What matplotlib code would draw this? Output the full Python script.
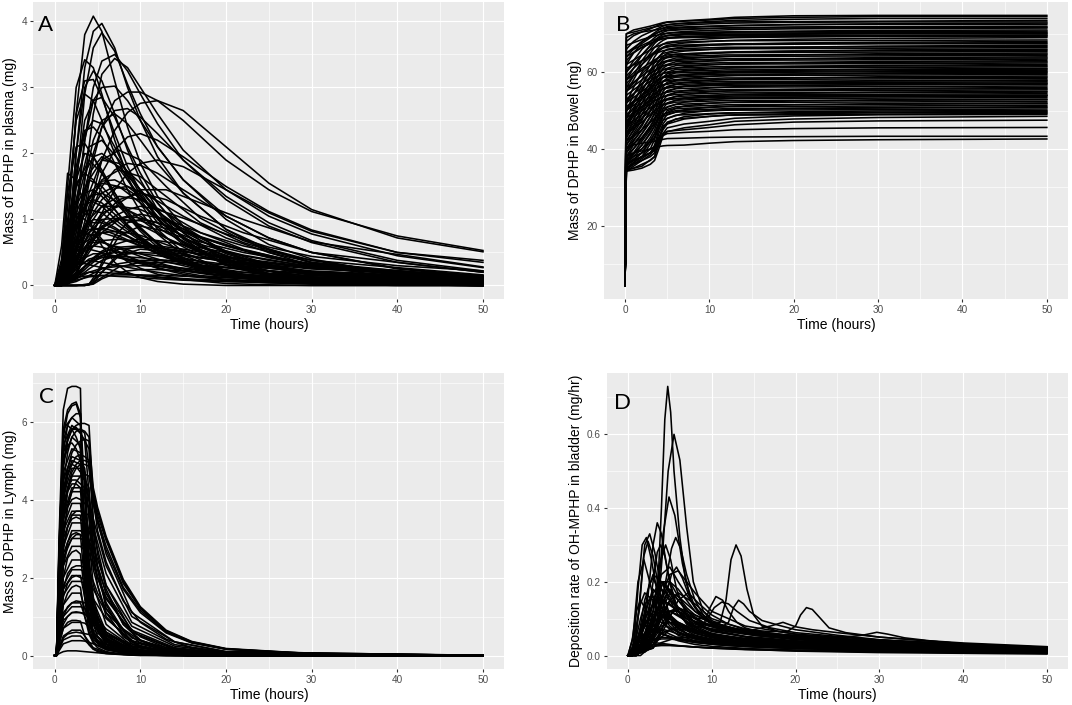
import matplotlib
matplotlib.use("Agg")
import matplotlib.pyplot as plt

plt.rcParams['font.family'] = 'Liberation Sans'

# panel A - mass in plasma, all curves share one time grid
timeA = [0, 0.8, 1.5, 2.5, 3.5, 4.5, 5.5, 7, 8.5, 10, 12, 15, 20, 25, 30, 40, 50]
plasma = [
    [0, 0.1, 0.8, 2.6, 3.8, 4.08, 3.85, 3.1, 2.4, 1.85, 1.35, 0.9, 0.5, 0.3, 0.18, 0.07, 0.03],
    [0, 0.05, 0.5, 2.0, 3.3, 3.85, 3.97, 3.6, 3.0, 2.5, 1.95, 1.4, 0.85, 0.55, 0.38, 0.18, 0.09],
    [0, 0.03, 0.3, 1.5, 2.9, 3.6, 3.83, 3.55, 3.05, 2.6, 2.1, 1.6, 1.05, 0.72, 0.5, 0.26, 0.14],
    [0, 0.02, 0.2, 1.0, 2.2, 3.0, 3.4, 3.5, 3.25, 2.9, 2.45, 1.9, 1.3, 0.9, 0.65, 0.35, 0.2],
    [0, 0, 0.1, 0.6, 1.6, 2.6, 3.2, 3.44, 3.3, 3.0, 2.6, 2.05, 1.45, 1.05, 0.78, 0.45, 0.27],
    [0, 0.3, 1.5, 3.0, 3.42, 3.3, 2.9, 2.2, 1.65, 1.25, 0.85, 0.5, 0.22, 0.1, 0.05, 0.01, 0],
    [0, 0.1, 0.6, 2.0, 3.0, 3.25, 3.1, 2.6, 2.05, 1.6, 1.15, 0.7, 0.32, 0.15, 0.07, 0.02, 0],
    [0, 0.05, 0.3, 1.2, 2.2, 2.8, 3.0, 3.02, 2.8, 2.5, 2.1, 1.6, 1.0, 0.62, 0.4, 0.16, 0.07],
    [0, 0, 0.1, 0.5, 1.2, 1.9, 2.4, 2.8, 2.93, 2.93, 2.8, 2.5, 1.9, 1.45, 1.12, 0.75, 0.53],
    [0, 0, 0.05, 0.3, 0.8, 1.4, 1.9, 2.35, 2.62, 2.76, 2.8, 2.65, 2.1, 1.55, 1.15, 0.72, 0.51],
    [0, 0.6, 1.7, 1.6, 1.2, 0.85, 0.6, 0.35, 0.2, 0.12, 0.06, 0.02, 0, 0, 0, 0, 0],
    [0, 0.2, 1.2, 2.5, 2.9, 2.8, 2.5, 2.0, 1.6, 1.3, 0.95, 0.62, 0.33, 0.18, 0.1, 0.04, 0.02],
    [0, 0.1, 0.9, 2.6, 3.1, 3.12, 2.85, 2.3, 1.8, 1.42, 1.02, 0.65, 0.3, 0.14, 0.07, 0.02, 0],
    [0, 0, 0.1, 0.6, 1.4, 2.0, 2.4, 2.65, 2.68, 2.55, 2.3, 1.9, 1.35, 0.95, 0.68, 0.38, 0.22],
    [0, 0, 0.05, 0.3, 0.8, 1.3, 1.7, 2.05, 2.25, 2.3, 2.2, 1.95, 1.5, 1.12, 0.84, 0.5, 0.35],
    [0, 0, 0.02, 0.15, 0.45, 0.8, 1.1, 1.45, 1.7, 1.85, 1.9, 1.8, 1.45, 1.1, 0.82, 0.5, 0.38],
    [0, 0.05, 0.4, 1.2, 1.7, 1.95, 2.0, 1.85, 1.6, 1.35, 1.05, 0.72, 0.4, 0.22, 0.13, 0.05, 0.02],
    [0, 0.1, 0.6, 1.7, 2.3, 2.5, 2.45, 2.1, 1.7, 1.38, 1.0, 0.65, 0.32, 0.16, 0.08, 0.02, 0.01],
    [0, 0, 0.1, 0.4, 0.8, 1.1, 1.3, 1.47, 1.5, 1.42, 1.28, 1.05, 0.72, 0.5, 0.35, 0.18, 0.1],
    [0, 0, 0.05, 0.2, 0.45, 0.7, 0.88, 1.05, 1.15, 1.2, 1.15, 1.02, 0.78, 0.58, 0.44, 0.3, 0.22],
    [0, 0.05, 0.3, 0.7, 0.9, 1.0, 0.98, 0.88, 0.75, 0.62, 0.48, 0.33, 0.18, 0.1, 0.06, 0.02, 0.01],
    [0, 0.1, 0.4, 0.7, 0.8, 0.76, 0.68, 0.55, 0.44, 0.35, 0.26, 0.17, 0.08, 0.04, 0.02, 0.01, 0],
    [0, 0.3, 1.0, 1.55, 1.7, 1.6, 1.42, 1.15, 0.9, 0.72, 0.52, 0.33, 0.15, 0.07, 0.03, 0.01, 0],
    [0, 0.4, 1.4, 2.1, 2.15, 1.95, 1.7, 1.35, 1.05, 0.82, 0.58, 0.35, 0.15, 0.06, 0.03, 0, 0],
    [0, 0, 0.05, 0.15, 0.28, 0.38, 0.45, 0.5, 0.5, 0.48, 0.45, 0.4, 0.32, 0.26, 0.2, 0.15, 0.12],
    [0, 0, 0, 0, 0, 0.02, 0.1, 0.18, 0.22, 0.24, 0.24, 0.22, 0.18, 0.15, 0.12, 0.09, 0.07],
    [0, 0, 0, 0, 0, 0.03, 0.2, 0.42, 0.55, 0.6, 0.6, 0.55, 0.44, 0.34, 0.27, 0.18, 0.12],
    [0, 0.05, 0.35, 0.9, 1.2, 1.3, 1.25, 1.08, 0.88, 0.72, 0.54, 0.36, 0.18, 0.09, 0.05, 0.02, 0],
    [0, 0.08, 0.25, 0.34, 0.33, 0.3, 0.27, 0.22, 0.18, 0.15, 0.12, 0.09, 0.06, 0.04, 0.03, 0.02, 0.01],
    [0, 0.02, 0.2, 0.8, 1.6, 2.2, 2.5, 2.6, 2.45, 2.2, 1.85, 1.4, 0.85, 0.5, 0.3, 0.12, 0.05],
    [0, 0, 0.08, 0.35, 0.8, 1.2, 1.5, 1.75, 1.85, 1.82, 1.7, 1.45, 1.05, 0.72, 0.5, 0.25, 0.13],
    [0, 0.03, 0.08, 0.12, 0.14, 0.15, 0.15, 0.14, 0.13, 0.12, 0.1, 0.08, 0.06, 0.05, 0.04, 0.03, 0.02],
    [0, 0.08, 0.6, 1.8, 2.35, 2.4, 2.25, 1.85, 1.45, 1.12, 0.78, 0.46, 0.2, 0.09, 0.04, 0.01, 0],
    [0, 0.02, 0.2, 0.7, 1.15, 1.45, 1.58, 1.6, 1.5, 1.35, 1.12, 0.82, 0.48, 0.28, 0.16, 0.06, 0.03],
    [0, 0, 0.03, 0.12, 0.28, 0.42, 0.52, 0.62, 0.68, 0.7, 0.68, 0.62, 0.5, 0.38, 0.29, 0.19, 0.14],
    [0, 0.05, 0.4, 1.6, 2.5, 2.8, 2.85, 2.55, 2.1, 1.7, 1.25, 0.8, 0.38, 0.18, 0.09, 0.02, 0.01],
    [0, 0.3, 0.8, 1.1, 1.0, 0.85, 0.7, 0.5, 0.36, 0.26, 0.17, 0.09, 0.03, 0.01, 0, 0, 0],
    [0, 0.05, 0.2, 0.42, 0.56, 0.6, 0.58, 0.52, 0.44, 0.37, 0.3, 0.22, 0.13, 0.08, 0.05, 0.02, 0.01],
    [0, 0, 0, 0, 0, 0.05, 0.35, 0.75, 0.95, 1.0, 0.95, 0.82, 0.6, 0.42, 0.3, 0.16, 0.09],
    [0, 0.02, 0.15, 0.5, 0.9, 1.2, 1.4, 1.5, 1.45, 1.32, 1.12, 0.85, 0.52, 0.32, 0.2, 0.08, 0.04],
    [0, 0.1, 0.5, 1.1, 1.4, 1.45, 1.35, 1.15, 0.92, 0.74, 0.55, 0.36, 0.17, 0.08, 0.04, 0.01, 0],
    [0, 0.05, 0.25, 0.55, 0.75, 0.85, 0.87, 0.82, 0.74, 0.65, 0.54, 0.42, 0.27, 0.18, 0.12, 0.06, 0.04],
    [0, 0, 0.05, 0.2, 0.45, 0.68, 0.86, 1.0, 1.05, 1.02, 0.95, 0.82, 0.6, 0.44, 0.33, 0.2, 0.15],
    [0, 0.02, 0.12, 0.3, 0.42, 0.48, 0.48, 0.45, 0.4, 0.35, 0.3, 0.23, 0.15, 0.1, 0.07, 0.04, 0.03],
    [0, 0.15, 0.7, 1.6, 2.0, 1.95, 1.75, 1.4, 1.1, 0.86, 0.62, 0.4, 0.19, 0.09, 0.05, 0.01, 0],
]
# the dense mass of low plasma curves, read on a coarser grid
timeA2 = [0, 1, 2.5, 4, 5.5, 7.5, 10, 13, 17, 22, 30, 50]
plasmaLow = [
    [0, 0.3, 1.2, 1.6, 1.5, 1.2, 0.85, 0.55, 0.3, 0.16, 0.06, 0.01],
    [0, 0.1, 0.7, 1.3, 1.55, 1.5, 1.25, 0.9, 0.58, 0.36, 0.17, 0.05],
    [0, 0.05, 0.4, 0.9, 1.2, 1.35, 1.3, 1.1, 0.8, 0.55, 0.3, 0.1],
    [0, 0.02, 0.2, 0.5, 0.8, 1.0, 1.08, 1.0, 0.8, 0.6, 0.38, 0.16],
    [0, 0.4, 1.5, 1.9, 1.7, 1.3, 0.88, 0.52, 0.25, 0.12, 0.04, 0],
    [0, 0.2, 0.9, 1.15, 1.1, 0.9, 0.68, 0.45, 0.26, 0.15, 0.06, 0.01],
    [0, 0.1, 0.5, 0.75, 0.8, 0.72, 0.6, 0.45, 0.3, 0.2, 0.1, 0.03],
    [0, 0.05, 0.3, 0.55, 0.68, 0.7, 0.65, 0.55, 0.42, 0.32, 0.2, 0.08],
    [0, 0.02, 0.15, 0.35, 0.5, 0.58, 0.6, 0.56, 0.48, 0.4, 0.28, 0.15],
    [0, 0.3, 1.0, 1.3, 1.2, 0.95, 0.7, 0.45, 0.24, 0.13, 0.05, 0.01],
    [0, 0.1, 0.8, 1.6, 1.9, 1.85, 1.55, 1.1, 0.68, 0.4, 0.17, 0.04],
    [0, 0.05, 0.5, 1.2, 1.6, 1.75, 1.65, 1.35, 0.95, 0.65, 0.35, 0.1],
    [0, 0.02, 0.25, 0.7, 1.05, 1.3, 1.4, 1.3, 1.05, 0.8, 0.5, 0.2],
    [0, 0.15, 0.6, 0.85, 0.85, 0.75, 0.6, 0.42, 0.26, 0.16, 0.07, 0.02],
    [0, 0.05, 0.25, 0.4, 0.45, 0.42, 0.37, 0.3, 0.22, 0.16, 0.1, 0.04],
    [0, 0.02, 0.1, 0.2, 0.26, 0.29, 0.3, 0.28, 0.24, 0.2, 0.15, 0.09],
    [0, 0.25, 0.9, 1.35, 1.4, 1.25, 1.0, 0.72, 0.45, 0.28, 0.13, 0.03],
    [0, 0.08, 0.55, 1.0, 1.2, 1.2, 1.05, 0.8, 0.54, 0.36, 0.19, 0.06],
    [0, 0.03, 0.3, 0.65, 0.9, 1.0, 0.98, 0.86, 0.66, 0.5, 0.32, 0.13],
    [0, 0, 0, 0.02, 0.2, 0.45, 0.55, 0.52, 0.42, 0.33, 0.22, 0.1],
    [0, 0, 0, 0.01, 0.12, 0.28, 0.35, 0.35, 0.3, 0.25, 0.18, 0.09],
    [0, 0, 0, 0.02, 0.3, 0.75, 0.9, 0.82, 0.62, 0.46, 0.28, 0.1],
    [0, 0.1, 0.3, 0.38, 0.35, 0.3, 0.24, 0.18, 0.12, 0.08, 0.04, 0.01],
    [0, 0.05, 0.15, 0.2, 0.2, 0.18, 0.15, 0.12, 0.09, 0.07, 0.05, 0.02],
    [0, 0.3, 1.3, 2.1, 2.2, 1.9, 1.45, 0.95, 0.52, 0.28, 0.1, 0.01],
    [0, 0.05, 0.6, 1.4, 1.9, 2.05, 1.9, 1.5, 1.02, 0.68, 0.34, 0.08],
    [0, 0.02, 0.2, 0.55, 0.95, 1.25, 1.45, 1.45, 1.25, 1.0, 0.66, 0.28],
    [0, 0.1, 0.45, 0.65, 0.65, 0.58, 0.48, 0.36, 0.24, 0.16, 0.08, 0.02],
    [0, 0.02, 0.12, 0.3, 0.45, 0.55, 0.58, 0.55, 0.47, 0.38, 0.26, 0.12],
    [0, 0.2, 0.7, 0.95, 0.95, 0.82, 0.65, 0.46, 0.28, 0.17, 0.07, 0.01],
    [0, 0.04, 0.35, 0.8, 1.1, 1.2, 1.15, 0.98, 0.74, 0.54, 0.31, 0.1],
    [0, 0.01, 0.1, 0.25, 0.38, 0.46, 0.5, 0.48, 0.42, 0.35, 0.25, 0.13],
    [0, 0.15, 0.45, 0.55, 0.5, 0.42, 0.33, 0.24, 0.15, 0.1, 0.05, 0.01],
    [0, 0.03, 0.18, 0.35, 0.42, 0.44, 0.42, 0.38, 0.31, 0.25, 0.17, 0.08],
    [0, 0.02, 0.08, 0.13, 0.15, 0.16, 0.16, 0.15, 0.13, 0.11, 0.08, 0.05],
    [0, 0.15, 0.95, 1.7, 1.95, 1.8, 1.45, 1.0, 0.6, 0.36, 0.15, 0.03],
    [0, 0.06, 0.4, 0.8, 1.0, 1.02, 0.92, 0.72, 0.5, 0.34, 0.18, 0.05],
    [0, 0.01, 0.06, 0.15, 0.25, 0.33, 0.38, 0.38, 0.34, 0.29, 0.21, 0.11],
    [0, 0.2, 0.55, 0.7, 0.66, 0.56, 0.44, 0.31, 0.19, 0.12, 0.05, 0.01],
    [0, 0.05, 0.35, 0.65, 0.8, 0.82, 0.76, 0.62, 0.45, 0.32, 0.18, 0.06],
]

# panel B - mass in bowel
timeB = [0, 0.15, 1, 2, 3, 3.5, 4, 4.5, 5, 7, 10, 13, 20, 30, 50]
bowel = [
    [4.4, 70, 71, 71.5, 72, 72.3, 72.6, 72.9, 73.1, 73.4, 73.8, 74.3, 74.7, 74.8, 74.8],
    [4.4, 68, 69.5, 70.5, 71.3, 71.8, 72.3, 72.7, 73, 73.3, 73.6, 74.0, 74.3, 74.5, 74.5],
    [4.4, 66, 68, 69.5, 70.5, 71, 71.5, 72, 72.4, 72.8, 73.2, 73.5, 73.8, 74.0, 74.0],
    [4.4, 64, 66, 68, 69.5, 70.3, 71, 71.5, 71.9, 72.3, 72.6, 72.8, 73, 73.1, 73.1],
    [4.4, 62, 65, 67.5, 69, 69.8, 70.5, 71, 71.3, 71.6, 71.9, 72.1, 72.4, 72.5, 72.5],
    [4.4, 60, 63, 66, 68, 69, 69.8, 70.4, 70.8, 71.1, 71.4, 71.6, 71.8, 71.9, 72.0],
    [4.4, 58, 61, 64.5, 67, 68.2, 69.2, 69.8, 70.2, 70.6, 70.9, 71.1, 71.3, 71.4, 71.5],
    [4.4, 56, 59, 63, 66, 67.5, 68.5, 69.2, 69.6, 70, 70.3, 70.5, 70.7, 70.9, 71.0],
    [4.4, 55, 58, 62, 65, 66.5, 67.5, 68.3, 68.8, 69.2, 69.5, 69.7, 69.9, 70.0, 70.0],
    [4.4, 52, 56, 60, 63.5, 65.2, 66.5, 67.3, 67.8, 68.3, 68.7, 69, 69.2, 69.4, 69.5],
    [4.4, 50, 54, 58, 62, 64, 65.5, 66.5, 67, 67.6, 68, 68.3, 68.6, 68.8, 69.0],
    [4.4, 48, 52, 56.5, 60.5, 62.5, 64, 65.2, 66, 66.6, 67, 67.3, 67.6, 67.8, 68.0],
    [4.4, 46, 50, 55, 59, 61.2, 63, 64.2, 64.9, 65.5, 65.9, 66.2, 66.5, 66.8, 67.0],
    [4.4, 45, 49, 53.5, 57.5, 60, 62, 63.2, 63.9, 64.5, 64.9, 65.2, 65.5, 65.8, 66.0],
    [4.4, 44, 47.5, 52, 56, 58.5, 60.8, 62.1, 62.9, 63.5, 63.9, 64.2, 64.5, 64.8, 65.0],
    [4.4, 43, 46, 50.5, 54.5, 57, 59.5, 61, 61.8, 62.5, 62.9, 63.2, 63.5, 63.8, 64.0],
    [4.4, 42, 45, 49, 53, 55.5, 58.2, 59.8, 60.7, 61.4, 61.9, 62.2, 62.5, 62.8, 63.0],
    [4.4, 41, 44, 47.5, 51.5, 54, 57, 58.7, 59.6, 60.4, 60.9, 61.2, 61.5, 61.8, 62.0],
    [4.4, 40, 43, 46, 50, 52.5, 55.5, 57.5, 58.5, 59.3, 59.9, 60.2, 60.5, 60.8, 61.0],
    [4.4, 39, 42, 45, 48.5, 51, 54, 56.2, 57.4, 58.3, 58.9, 59.2, 59.5, 59.8, 60.0],
    [4.4, 38, 41, 44, 47, 49.5, 52.5, 55, 56.3, 57.3, 57.9, 58.2, 58.5, 58.8, 59.0],
    [4.4, 37.5, 40, 43, 46, 48, 51, 53.8, 55.2, 56.3, 56.9, 57.2, 57.5, 57.8, 58.0],
    [4.4, 37, 39, 42, 45, 47, 50, 52.5, 54.1, 55.2, 55.9, 56.2, 56.5, 56.8, 57.0],
    [4.4, 36.5, 38.5, 41, 44, 46, 49, 51.5, 53.1, 54.2, 54.9, 55.2, 55.5, 55.8, 56.0],
    [4.4, 36, 38, 40, 43, 45, 48, 50.5, 52, 53.2, 53.9, 54.2, 54.5, 54.8, 55.0],
    [4.4, 35.5, 37, 39, 42, 44, 47, 49.5, 51, 52.2, 52.9, 53.2, 53.5, 53.8, 54.0],
    [4.4, 35, 36.5, 38, 40, 42.5, 46, 48.5, 50, 51.2, 51.9, 52.2, 52.5, 52.8, 53.0],
    [4.4, 34.5, 36, 37.5, 39, 41, 45, 47.5, 49, 50.2, 50.9, 51.2, 51.5, 51.8, 52.0],
    [4.4, 34.2, 35.5, 37, 38.5, 40, 44, 46.5, 48, 49.3, 50, 50.3, 50.6, 50.8, 51.0],
    [4.4, 36, 37, 38, 39, 40, 43, 45.5, 47, 48.4, 49.1, 49.4, 49.7, 49.9, 50.0],
    [4.4, 35, 36, 37, 38, 39, 42.5, 45, 46.5, 47.8, 48.5, 48.9, 49.2, 49.4, 49.5],
    [4.4, 34.5, 35, 36, 37, 38, 41, 44, 45.5, 46.5, 47.2, 48.0, 48.6, 48.9, 49.0],
    [4.4, 34.2, 34.5, 35, 36, 37, 40, 43.5, 44.5, 45.5, 46.3, 47.2, 47.8, 48.2, 48.5],
    [4.4, 37, 38, 39, 40, 40.5, 42, 44, 44.6, 45, 45.6, 46.3, 47.0, 47.3, 47.5],
    [4.4, 36, 37, 38, 39, 39.5, 41.5, 43.5, 44, 44.3, 44.6, 45.0, 45.3, 45.5, 45.6],
    [4.4, 40, 41, 41.5, 41.8, 42, 42.3, 42.5, 42.7, 42.8, 43.0, 43.1, 43.2, 43.3, 43.3],
    [4.4, 38, 39, 39.5, 40, 40.3, 40.6, 40.8, 40.9, 41.0, 41.5, 41.9, 42.2, 42.4, 42.6],
    [4.4, 69, 70, 70.5, 70.8, 71, 71.2, 71.4, 71.6, 71.8, 72.0, 72.2, 72.4, 72.6, 72.8],
    [4.4, 65, 66, 67, 68, 68.5, 69, 69.3, 69.5, 69.7, 69.8, 69.9, 70.0, 70.1, 70.2],
    [4.4, 57, 59, 61, 62.5, 63.2, 63.8, 64.2, 64.5, 64.8, 65.1, 65.3, 65.5, 65.6, 65.7],
    [4.4, 50, 52, 54, 56, 57, 58, 58.6, 59, 59.4, 59.7, 59.9, 60.0, 60.1, 60.2],
    [4.4, 47, 49, 51, 53, 54, 55, 55.6, 56, 56.4, 56.7, 56.9, 57.0, 57.1, 57.2],
    [4.4, 44, 46, 48, 50, 51, 52, 52.6, 53, 53.3, 53.6, 53.8, 53.9, 54.0, 54.0],
    [4.4, 63, 65, 66.5, 67.5, 68, 68.4, 68.7, 68.9, 69.0, 69.1, 69.2, 69.3, 69.3, 69.3],
    [4.4, 59, 61, 63, 64.5, 65.3, 66, 66.4, 66.7, 66.9, 67.1, 67.2, 67.3, 67.4, 67.4],
]
timeB2 = [0, 0.15, 2, 3.5, 4.5, 6, 12, 50]
bowelDense = [
    [4.4, 34.5, 35.5, 38, 46, 47.8, 48.8, 49.3],
    [4.4, 38, 40, 43, 47.5, 48.8, 49.4, 49.8],
    [4.4, 36, 39, 44, 48.5, 49.6, 50.1, 50.4],
    [4.4, 40, 43, 46.5, 49, 50.0, 50.5, 50.8],
    [4.4, 35, 38, 43, 49, 50.5, 51.0, 51.4],
    [4.4, 42, 45, 48, 50, 51.0, 51.5, 51.8],
    [4.4, 37, 41, 46, 50.5, 51.6, 52.1, 52.4],
    [4.4, 44, 47, 50, 51.5, 52.2, 52.6, 52.8],
    [4.4, 38, 42.5, 47.5, 51.5, 52.7, 53.1, 53.4],
    [4.4, 46, 49, 51.5, 52.6, 53.1, 53.5, 53.7],
    [4.4, 39, 44, 49, 52.6, 53.7, 54.1, 54.4],
    [4.4, 47, 50, 52.5, 53.7, 54.2, 54.6, 54.8],
    [4.4, 40, 45, 50, 53.5, 54.7, 55.1, 55.4],
    [4.4, 48, 51, 53.5, 54.6, 55.1, 55.5, 55.7],
    [4.4, 41, 46.5, 51.5, 54.6, 55.7, 56.1, 56.4],
    [4.4, 49, 52, 54.5, 55.7, 56.2, 56.6, 56.8],
    [4.4, 42, 48, 53, 55.8, 56.8, 57.2, 57.5],
    [4.4, 50, 53, 55.5, 56.7, 57.2, 57.6, 57.8],
    [4.4, 43, 49, 54, 56.7, 57.7, 58.1, 58.4],
    [4.4, 51, 54, 56.5, 57.6, 58.1, 58.5, 58.7],
    [4.4, 44, 50, 55, 57.7, 58.7, 59.1, 59.4],
    [4.4, 52, 55, 57.5, 58.6, 59.1, 59.5, 59.7],
    [4.4, 45, 51, 56, 58.8, 59.8, 60.2, 60.5],
    [4.4, 53, 56, 58.5, 59.7, 60.2, 60.6, 60.8],
    [4.4, 46, 52, 57, 59.7, 60.7, 61.1, 61.4],
    [4.4, 54, 57, 59.5, 60.6, 61.1, 61.5, 61.7],
    [4.4, 47, 53, 58, 60.7, 61.7, 62.1, 62.4],
    [4.4, 55, 58, 60.5, 61.6, 62.1, 62.5, 62.7],
    [4.4, 48, 54, 59, 61.7, 62.7, 63.1, 63.4],
    [4.4, 56, 59, 61.5, 62.6, 63.1, 63.5, 63.7],
    [4.4, 50, 55.5, 60, 62.7, 63.7, 64.1, 64.4],
    [4.4, 58, 60.5, 62.5, 63.6, 64.1, 64.5, 64.7],
    [4.4, 52, 57, 61.5, 63.8, 64.7, 65.1, 65.4],
    [4.4, 55, 59.5, 63, 64.9, 65.7, 66.1, 66.4],
    [4.4, 61, 63, 64.8, 65.6, 66.1, 66.5, 66.7],
    [4.4, 58, 62, 65, 66.3, 67.0, 67.4, 67.7],
    [4.4, 62, 64.5, 66.5, 67.3, 67.8, 68.2, 68.4],
    [4.4, 64, 66.5, 68, 68.8, 69.2, 69.5, 69.7],
    [4.4, 60, 64.5, 68, 69.3, 69.9, 70.2, 70.4],
    [4.4, 67, 68.5, 69.5, 70.0, 70.3, 70.5, 70.7],
    [4.4, 65, 68, 70, 70.8, 71.2, 71.5, 71.7],
    [4.4, 70, 71, 71.8, 72.2, 72.6, 73.1, 73.5],
]

# panel C - mass in lymph
timeC = [0, 0.2, 0.5, 1, 1.5, 2, 2.5, 3, 3.5, 4, 4.5, 5, 6, 8, 10, 13, 16, 20, 30, 50]
lymph = [
    [0, 0, 3.0, 6.3, 6.85, 6.9, 6.9, 6.85, 1.5, 0.6, 0.35, 0.25, 0.15, 0.07, 0.04, 0.02, 0.01, 0, 0, 0],
    [0, 0, 2.5, 5.8, 6.3, 6.45, 6.5, 6.2, 2.2, 1.0, 0.55, 0.35, 0.2, 0.1, 0.05, 0.02, 0.01, 0, 0, 0],
    [0, 0, 2.0, 5.2, 5.9, 6.1, 6.2, 6.2, 4.2, 2.0, 1.1, 0.7, 0.38, 0.15, 0.07, 0.03, 0.01, 0, 0, 0],
    [0, 0, 1.8, 4.8, 5.5, 5.8, 5.9, 5.95, 5.95, 5.9, 4.0, 3.2, 2.4, 1.4, 0.85, 0.42, 0.2, 0.09, 0.02, 0],
    [0, 0, 1.5, 4.0, 4.8, 5.2, 5.4, 5.5, 5.55, 5.5, 4.3, 3.8, 3.05, 1.95, 1.25, 0.65, 0.36, 0.18, 0.05, 0.01],
    [0, 0, 1.2, 3.5, 4.3, 4.7, 4.9, 5.0, 5.0, 4.95, 4.1, 3.6, 2.95, 1.85, 1.2, 0.62, 0.34, 0.17, 0.04, 0.01],
    [0, 0, 1.0, 3.0, 3.8, 4.2, 4.45, 4.6, 4.65, 4.6, 3.9, 3.4, 2.7, 1.7, 1.1, 0.58, 0.32, 0.16, 0.04, 0],
    [0, 0, 2.8, 5.5, 5.9, 5.8, 5.6, 5.3, 3.0, 1.6, 1.0, 0.65, 0.35, 0.12, 0.05, 0.02, 0, 0, 0, 0],
    [0, 0, 2.4, 5.0, 5.4, 5.45, 5.3, 5.0, 4.7, 2.5, 1.5, 1.0, 0.55, 0.2, 0.08, 0.03, 0.01, 0, 0, 0],
    [0, 0, 2.0, 4.2, 4.8, 4.9, 4.85, 4.7, 4.5, 4.3, 2.6, 1.8, 1.1, 0.48, 0.22, 0.08, 0.03, 0.01, 0, 0],
    [0, 0, 1.6, 3.6, 4.2, 4.4, 4.4, 4.3, 2.4, 1.3, 0.8, 0.5, 0.28, 0.1, 0.04, 0.01, 0, 0, 0, 0],
    [0, 0, 1.4, 3.2, 3.8, 4.0, 4.05, 4.0, 3.9, 3.8, 2.9, 2.3, 1.6, 0.8, 0.4, 0.15, 0.06, 0.02, 0, 0],
    [0, 0, 1.2, 2.8, 3.3, 3.5, 3.55, 3.5, 3.4, 2.0, 1.2, 0.8, 0.45, 0.17, 0.07, 0.02, 0, 0, 0, 0],
    [0, 0, 1.0, 2.4, 2.9, 3.1, 3.15, 3.1, 3.0, 2.9, 2.4, 2.0, 1.5, 0.85, 0.48, 0.2, 0.09, 0.03, 0, 0],
    [0, 0, 0.8, 2.0, 2.5, 2.65, 2.7, 2.6, 1.5, 0.85, 0.5, 0.32, 0.17, 0.06, 0.02, 0, 0, 0, 0, 0],
    [0, 0, 0.7, 1.7, 2.1, 2.25, 2.3, 2.3, 2.25, 2.2, 1.9, 1.6, 1.2, 0.68, 0.38, 0.16, 0.07, 0.02, 0, 0],
    [0, 0, 0.5, 1.3, 1.6, 1.75, 1.8, 1.75, 1.0, 0.55, 0.32, 0.2, 0.1, 0.03, 0.01, 0, 0, 0, 0, 0],
    [0, 0, 0.4, 1.0, 1.25, 1.35, 1.4, 1.38, 1.35, 1.3, 1.1, 0.92, 0.68, 0.38, 0.21, 0.09, 0.04, 0.01, 0, 0],
    [0, 0, 0.3, 0.7, 0.85, 0.9, 0.9, 0.88, 0.5, 0.28, 0.17, 0.1, 0.05, 0.02, 0, 0, 0, 0, 0, 0],
    [0, 0, 0.2, 0.45, 0.55, 0.58, 0.6, 0.58, 0.56, 0.54, 0.45, 0.38, 0.28, 0.16, 0.09, 0.04, 0.02, 0, 0, 0],
    [0, 0, 0.05, 0.1, 0.12, 0.12, 0.12, 0.11, 0.1, 0.09, 0.08, 0.07, 0.05, 0.03, 0.02, 0.01, 0, 0, 0, 0],
    [0, 0, 2.6, 5.6, 6.2, 6.4, 6.45, 6.1, 2.0, 0.9, 0.5, 0.32, 0.18, 0.08, 0.04, 0.02, 0, 0, 0, 0],
    [0, 0, 1.8, 4.4, 5.2, 5.6, 5.75, 5.8, 5.75, 5.6, 3.5, 2.6, 1.7, 0.8, 0.38, 0.13, 0.05, 0.01, 0, 0],
    [0, 0, 1.3, 3.4, 4.2, 4.6, 4.8, 4.9, 4.9, 4.85, 4.0, 3.5, 2.8, 1.75, 1.15, 0.6, 0.33, 0.16, 0.04, 0],
    [0, 0, 0.9, 2.3, 2.8, 3.0, 3.1, 3.1, 1.8, 1.0, 0.6, 0.38, 0.2, 0.07, 0.03, 0.01, 0, 0, 0, 0],
    [0, 0, 1.5, 3.7, 4.3, 4.5, 4.5, 4.4, 4.3, 2.2, 1.3, 0.85, 0.45, 0.16, 0.06, 0.02, 0, 0, 0, 0],
    [0, 0, 0.6, 1.5, 1.85, 2.0, 2.05, 2.0, 1.95, 1.9, 1.2, 0.8, 0.45, 0.17, 0.07, 0.02, 0, 0, 0, 0],
    [0, 0, 2.2, 4.9, 5.6, 5.8, 5.85, 5.7, 5.5, 5.3, 3.2, 2.2, 1.3, 0.55, 0.24, 0.08, 0.03, 0.01, 0, 0],
    [0, 0, 1.1, 2.7, 3.3, 3.6, 3.7, 3.7, 3.65, 3.6, 2.6, 2.0, 1.35, 0.65, 0.32, 0.12, 0.05, 0.01, 0, 0],
    [0, 0, 0.3, 0.8, 1.0, 1.1, 1.12, 1.1, 1.05, 1.0, 0.85, 0.72, 0.52, 0.28, 0.15, 0.06, 0.02, 0, 0, 0],
    [0, 0, 1.6, 3.9, 4.6, 4.9, 5.1, 5.15, 5.1, 5.0, 4.2, 3.7, 3.0, 1.9, 1.22, 0.63, 0.35, 0.17, 0.05, 0.01],
]
timeC2 = [0, 0.2, 0.5, 1, 2, 3, 3.5, 4.5, 6, 9, 14, 20, 50]
lymphDense = [
    [0, 0, 2.2, 5.0, 5.6, 5.4, 2.5, 0.8, 0.3, 0.08, 0.02, 0, 0],
    [0, 0, 1.9, 4.5, 5.1, 5.0, 4.8, 2.2, 1.0, 0.3, 0.07, 0.02, 0],
    [0, 0, 1.6, 3.9, 4.6, 4.6, 4.5, 3.5, 2.3, 1.0, 0.35, 0.1, 0],
    [0, 0, 1.3, 3.3, 3.9, 3.9, 3.0, 1.2, 0.5, 0.15, 0.04, 0.01, 0],
    [0, 0, 1.1, 2.8, 3.4, 3.4, 3.35, 2.6, 1.6, 0.65, 0.2, 0.06, 0],
    [0, 0, 0.9, 2.3, 2.8, 2.8, 2.7, 1.1, 0.45, 0.12, 0.03, 0, 0],
    [0, 0, 0.7, 1.8, 2.2, 2.2, 2.15, 1.7, 1.1, 0.45, 0.14, 0.04, 0],
    [0, 0, 0.5, 1.3, 1.6, 1.6, 1.2, 0.5, 0.2, 0.06, 0.01, 0, 0],
    [0, 0, 0.35, 0.9, 1.1, 1.1, 1.08, 0.85, 0.55, 0.22, 0.07, 0.02, 0],
    [0, 0, 0.2, 0.5, 0.65, 0.65, 0.5, 0.2, 0.08, 0.02, 0, 0, 0],
    [0, 0, 2.5, 5.4, 5.9, 5.7, 5.5, 2.8, 1.2, 0.35, 0.08, 0.02, 0],
    [0, 0, 2.0, 4.7, 5.3, 5.2, 2.0, 0.6, 0.22, 0.06, 0.01, 0, 0],
    [0, 0, 1.7, 4.1, 4.8, 4.8, 4.7, 3.2, 1.8, 0.6, 0.15, 0.04, 0],
    [0, 0, 1.4, 3.5, 4.2, 4.2, 4.1, 1.8, 0.8, 0.25, 0.06, 0.01, 0],
    [0, 0, 1.2, 3.0, 3.6, 3.6, 2.2, 0.8, 0.3, 0.08, 0.02, 0, 0],
    [0, 0, 1.0, 2.5, 3.0, 3.0, 2.95, 2.3, 1.45, 0.6, 0.18, 0.05, 0],
    [0, 0, 0.8, 2.0, 2.45, 2.45, 2.4, 1.0, 0.4, 0.1, 0.02, 0, 0],
    [0, 0, 0.6, 1.55, 1.9, 1.9, 1.85, 1.45, 0.95, 0.38, 0.12, 0.03, 0],
    [0, 0, 0.45, 1.1, 1.35, 1.35, 1.0, 0.4, 0.15, 0.04, 0.01, 0, 0],
    [0, 0, 0.3, 0.7, 0.85, 0.85, 0.83, 0.65, 0.42, 0.17, 0.05, 0.01, 0],
    [0, 0, 0.12, 0.3, 0.38, 0.38, 0.37, 0.3, 0.2, 0.08, 0.02, 0.01, 0],
    [0, 0, 2.3, 5.2, 5.8, 5.8, 5.7, 3.9, 2.6, 1.1, 0.35, 0.1, 0],
    [0, 0, 1.8, 4.3, 5.0, 4.9, 3.5, 1.3, 0.5, 0.14, 0.03, 0.01, 0],
    [0, 0, 1.5, 3.6, 4.3, 4.3, 4.2, 3.3, 2.1, 0.85, 0.28, 0.08, 0],
    [0, 0, 1.0, 2.6, 3.2, 3.2, 3.1, 1.4, 0.6, 0.18, 0.04, 0.01, 0],
    [0, 0, 0.65, 1.7, 2.05, 2.05, 1.5, 0.6, 0.24, 0.07, 0.02, 0, 0],
    [0, 0, 0.4, 1.0, 1.25, 1.25, 1.22, 0.95, 0.6, 0.24, 0.08, 0.02, 0],
    [0, 0, 0.15, 0.4, 0.5, 0.5, 0.4, 0.16, 0.06, 0.02, 0, 0, 0],
    [0, 0, 2.7, 5.8, 6.1, 5.9, 3.0, 0.9, 0.35, 0.1, 0.02, 0, 0],
    [0, 0, 1.4, 3.2, 3.7, 3.7, 3.6, 2.8, 1.8, 0.75, 0.24, 0.07, 0],
]

# panel D - deposition rate in bladder, each visible curve has its own time points
bladderTimes = [
    [0, 2.5, 3.2, 3.6, 4.0, 4.4, 4.75, 5.1, 5.5, 6.2, 6.9, 8, 9, 10, 12, 15, 20, 30, 40, 50],
    [0, 2.5, 3.5, 4.2, 4.8, 5.5, 6.2, 7, 7.8, 9, 10, 12, 15, 20, 30, 40, 50],
    [0, 2.5, 3.5, 4.2, 4.9, 5.6, 6.5, 7.5, 9, 11, 15, 20, 30, 40, 50],
    [0, 1.5, 2.3, 3, 3.5, 4, 4.8, 5.5, 6.5, 8, 10, 15, 20, 30, 40, 50],
    [0, 0.8, 1.4, 2, 2.6, 3.2, 4, 5, 6, 8, 10, 15, 20, 30, 40, 50],
    [0, 0.7, 1.2, 1.7, 2.2, 2.8, 3.5, 4.5, 6, 8, 10, 15, 20, 30, 40, 50],
    [0, 2.5, 3.5, 4.5, 5.2, 5.7, 6.3, 7, 8, 9, 10, 12, 15, 20, 30, 40, 50],
    [0, 2, 3, 4, 5, 6, 7, 8, 9, 10, 11, 11.7, 12.3, 12.9, 13.5, 14.2, 15, 16, 18, 20, 25, 30, 40, 50],
    [0, 2, 3, 4, 5, 6, 7, 8, 9, 9.8, 10.5, 11.3, 12, 13, 14, 16, 20, 30, 40, 50],
    [0, 2, 3, 4, 6, 8, 9.5, 10.3, 11.2, 12, 13, 14.5, 17, 20, 30, 40, 50],
    [0, 3, 4, 5, 7, 9, 11, 12, 12.6, 13.2, 13.8, 14.5, 16, 18, 20, 25, 30, 40, 50],
    [0, 3, 4, 5, 7, 10, 14, 17, 19, 20, 20.6, 21.3, 22, 23, 24, 26, 30, 40, 50],
    [0, 3, 5, 8, 12, 15, 17, 18.5, 20, 22, 25, 30, 40, 50],
    [0, 3, 5, 8, 12, 16, 20, 25, 28, 29.7, 31, 33, 36, 40, 50],
    [0, 0.6, 1.2, 1.9, 2.6, 3.3, 4.5, 6, 8, 10, 15, 20, 30, 40, 50],
    [0, 0.5, 1, 1.5, 2, 2.8, 4, 6, 8, 10, 15, 20, 30, 40, 50],
    [0, 2.5, 3.5, 4.5, 5.2, 5.8, 6.5, 7.5, 9, 11, 14, 18, 25, 35, 50],
    [0, 1.5, 2.3, 3, 3.5, 3.9, 4.4, 5, 6, 7, 8.5, 10, 15, 20, 30, 40, 50],
    [0, 2, 3, 3.8, 4.5, 5.1, 5.8, 7, 8.5, 10, 15, 20, 30, 40, 50],
    [0, 2, 3, 3.6, 4.2, 4.9, 5.8, 7, 9, 12, 16, 22, 30, 40, 50],
    [0, 3, 4.5, 6, 7.2, 8.5, 10, 12, 15, 20, 25, 30, 40, 50],
    [0, 1, 2, 3, 4, 5, 7, 10, 15, 20, 30, 40, 50],
    [0, 2, 3.5, 5, 6.5, 8, 10, 15, 20, 30, 40, 50],
    [0, 0.8, 2, 3, 5, 8, 12, 20, 30, 40, 50],
    [0, 1, 2.5, 4, 6, 10, 15, 20, 30, 40, 50],
    [0, 1, 2, 2.5, 3, 3.6, 4.5, 6, 8, 10, 15, 20, 30, 40, 50],
    [0, 2, 3.5, 4.8, 6, 8, 11, 15, 20, 25, 30, 40, 50],
    [0, 1, 2, 3, 5, 10, 20, 30, 50],
    [0, 0.8, 1.4, 1.9, 2.4, 3, 3.7, 4.5, 5.5, 7, 9, 12, 16, 20, 30, 40, 50],
    [0, 1.5, 3, 4.5, 6, 8, 10, 14, 20, 30, 40, 50],
    [0, 1, 2, 3, 4, 6, 9, 13, 20, 30, 40, 50],
    [0, 3, 4, 5, 6, 7, 9, 12, 16, 20, 30, 40, 50],
    [0, 2, 4, 6, 9, 13, 18, 25, 35, 50],
]
bladderRates = [
    [0, 0.02, 0.08, 0.2, 0.4, 0.64, 0.73, 0.66, 0.5, 0.32, 0.2, 0.13, 0.1, 0.085, 0.07, 0.058, 0.045, 0.033, 0.026, 0.02],
    [0, 0.02, 0.1, 0.3, 0.5, 0.6, 0.53, 0.35, 0.2, 0.12, 0.095, 0.075, 0.06, 0.047, 0.034, 0.026, 0.02],
    [0, 0.03, 0.15, 0.33, 0.43, 0.38, 0.25, 0.15, 0.1, 0.075, 0.055, 0.043, 0.03, 0.024, 0.018],
    [0, 0.03, 0.14, 0.3, 0.36, 0.33, 0.22, 0.15, 0.1, 0.07, 0.055, 0.04, 0.032, 0.025, 0.02, 0.015],
    [0, 0.02, 0.15, 0.3, 0.33, 0.28, 0.18, 0.11, 0.08, 0.055, 0.045, 0.033, 0.027, 0.02, 0.016, 0.012],
    [0, 0.03, 0.18, 0.3, 0.32, 0.26, 0.17, 0.1, 0.065, 0.045, 0.037, 0.028, 0.022, 0.017, 0.013, 0.01],
    [0, 0.02, 0.08, 0.2, 0.29, 0.32, 0.29, 0.22, 0.15, 0.11, 0.09, 0.075, 0.062, 0.05, 0.036, 0.028, 0.022],
    [0, 0.03, 0.12, 0.2, 0.2, 0.16, 0.13, 0.11, 0.1, 0.09, 0.09, 0.15, 0.26, 0.3, 0.27, 0.18, 0.11, 0.08, 0.065, 0.058, 0.045, 0.036, 0.026, 0.02],
    [0, 0.03, 0.1, 0.15, 0.14, 0.12, 0.1, 0.085, 0.08, 0.13, 0.16, 0.15, 0.12, 0.09, 0.075, 0.062, 0.05, 0.035, 0.026, 0.02],
    [0, 0.04, 0.15, 0.2, 0.15, 0.1, 0.1, 0.13, 0.145, 0.14, 0.12, 0.095, 0.075, 0.062, 0.042, 0.03, 0.022],
    [0, 0.04, 0.14, 0.18, 0.12, 0.09, 0.075, 0.09, 0.13, 0.15, 0.14, 0.12, 0.095, 0.082, 0.07, 0.055, 0.043, 0.03, 0.022],
    [0, 0.05, 0.12, 0.12, 0.1, 0.08, 0.07, 0.065, 0.065, 0.08, 0.11, 0.13, 0.125, 0.1, 0.075, 0.062, 0.05, 0.032, 0.022],
    [0, 0.06, 0.15, 0.09, 0.07, 0.07, 0.08, 0.09, 0.078, 0.07, 0.062, 0.05, 0.032, 0.02],
    [0, 0.05, 0.12, 0.08, 0.065, 0.06, 0.055, 0.048, 0.055, 0.063, 0.058, 0.048, 0.04, 0.034, 0.024],
    [0, 0.05, 0.2, 0.26, 0.2, 0.13, 0.08, 0.055, 0.04, 0.033, 0.024, 0.019, 0.014, 0.011, 0.008],
    [0, 0.04, 0.12, 0.15, 0.13, 0.09, 0.06, 0.04, 0.03, 0.025, 0.018, 0.014, 0.01, 0.008, 0.006],
    [0, 0.02, 0.07, 0.16, 0.22, 0.24, 0.21, 0.15, 0.1, 0.075, 0.06, 0.05, 0.038, 0.028, 0.018],
    [0, 0.02, 0.08, 0.2, 0.28, 0.3, 0.27, 0.2, 0.12, 0.085, 0.065, 0.055, 0.04, 0.032, 0.024, 0.018, 0.014],
    [0, 0.02, 0.12, 0.25, 0.3, 0.26, 0.18, 0.11, 0.08, 0.065, 0.048, 0.038, 0.027, 0.021, 0.016],
    [0, 0.02, 0.09, 0.16, 0.2, 0.18, 0.13, 0.09, 0.065, 0.05, 0.04, 0.032, 0.025, 0.019, 0.014],
    [0, 0.02, 0.08, 0.15, 0.17, 0.14, 0.11, 0.085, 0.066, 0.052, 0.043, 0.036, 0.027, 0.02],
    [0, 0.02, 0.08, 0.12, 0.11, 0.09, 0.06, 0.042, 0.03, 0.024, 0.018, 0.014, 0.011],
    [0, 0.01, 0.06, 0.1, 0.085, 0.068, 0.055, 0.04, 0.033, 0.025, 0.019, 0.015],
    [0, 0.03, 0.08, 0.07, 0.05, 0.035, 0.027, 0.02, 0.015, 0.012, 0.009],
    [0, 0.01, 0.04, 0.05, 0.045, 0.035, 0.028, 0.023, 0.018, 0.014, 0.011],
    [0, 0.02, 0.12, 0.19, 0.21, 0.18, 0.12, 0.07, 0.05, 0.04, 0.03, 0.024, 0.018, 0.014, 0.011],
    [0, 0.01, 0.08, 0.14, 0.12, 0.09, 0.072, 0.062, 0.054, 0.047, 0.04, 0.03, 0.022],
    [0, 0.01, 0.025, 0.03, 0.028, 0.02, 0.012, 0.008, 0.004],
    [0, 0.02, 0.14, 0.27, 0.31, 0.27, 0.18, 0.12, 0.085, 0.06, 0.047, 0.037, 0.029, 0.024, 0.018, 0.014, 0.011],
    [0, 0.02, 0.1, 0.16, 0.13, 0.09, 0.07, 0.052, 0.04, 0.03, 0.023, 0.017],
    [0, 0.03, 0.1, 0.14, 0.12, 0.08, 0.055, 0.04, 0.03, 0.022, 0.017, 0.013],
    [0, 0.02, 0.07, 0.12, 0.13, 0.115, 0.085, 0.065, 0.052, 0.044, 0.033, 0.025, 0.019],
    [0, 0.01, 0.035, 0.05, 0.045, 0.04, 0.034, 0.028, 0.022, 0.015],
]
timeD2 = [0, 0.5, 1, 1.5, 2, 3, 4, 5, 6, 8, 10, 14, 20, 30, 40, 50]
bladderDense = [
    [0, 0.01, 0.05, 0.1, 0.14, 0.16, 0.13, 0.1, 0.08, 0.06, 0.05, 0.038, 0.03, 0.022, 0.017, 0.013],
    [0, 0, 0.02, 0.05, 0.08, 0.14, 0.18, 0.16, 0.12, 0.08, 0.06, 0.045, 0.035, 0.026, 0.02, 0.015],
    [0, 0, 0.01, 0.02, 0.04, 0.09, 0.15, 0.2, 0.18, 0.12, 0.085, 0.06, 0.045, 0.033, 0.025, 0.018],
    [0, 0, 0, 0.01, 0.02, 0.05, 0.1, 0.15, 0.17, 0.14, 0.1, 0.07, 0.052, 0.038, 0.028, 0.02],
    [0, 0.01, 0.04, 0.07, 0.09, 0.1, 0.09, 0.075, 0.063, 0.05, 0.042, 0.034, 0.027, 0.02, 0.015, 0.011],
    [0, 0, 0.02, 0.04, 0.06, 0.09, 0.11, 0.1, 0.085, 0.065, 0.053, 0.042, 0.033, 0.025, 0.019, 0.014],
    [0, 0, 0.01, 0.02, 0.03, 0.06, 0.08, 0.09, 0.085, 0.07, 0.058, 0.046, 0.037, 0.028, 0.021, 0.016],
    [0, 0, 0, 0.01, 0.02, 0.04, 0.06, 0.07, 0.072, 0.065, 0.056, 0.046, 0.038, 0.029, 0.022, 0.017],
    [0, 0.01, 0.03, 0.05, 0.06, 0.065, 0.06, 0.052, 0.045, 0.037, 0.031, 0.025, 0.02, 0.015, 0.011, 0.008],
    [0, 0, 0.01, 0.02, 0.03, 0.04, 0.045, 0.045, 0.042, 0.036, 0.031, 0.026, 0.021, 0.016, 0.012, 0.009],
    [0, 0, 0.03, 0.08, 0.15, 0.22, 0.2, 0.15, 0.11, 0.075, 0.058, 0.044, 0.034, 0.025, 0.019, 0.014],
    [0, 0, 0.01, 0.03, 0.06, 0.14, 0.22, 0.24, 0.2, 0.13, 0.09, 0.065, 0.048, 0.035, 0.026, 0.019],
    [0, 0, 0, 0.01, 0.03, 0.08, 0.16, 0.22, 0.23, 0.17, 0.12, 0.08, 0.058, 0.042, 0.031, 0.022],
    [0, 0.02, 0.08, 0.14, 0.17, 0.15, 0.11, 0.08, 0.062, 0.045, 0.036, 0.028, 0.022, 0.016, 0.012, 0.009],
    [0, 0, 0.02, 0.05, 0.09, 0.17, 0.2, 0.17, 0.13, 0.09, 0.068, 0.05, 0.038, 0.028, 0.021, 0.015],
    [0, 0, 0.01, 0.02, 0.04, 0.07, 0.1, 0.12, 0.12, 0.1, 0.08, 0.06, 0.046, 0.034, 0.026, 0.019],
    [0, 0, 0, 0.01, 0.01, 0.03, 0.05, 0.07, 0.08, 0.08, 0.072, 0.058, 0.046, 0.034, 0.025, 0.018],
    [0, 0.01, 0.02, 0.03, 0.035, 0.035, 0.033, 0.03, 0.027, 0.023, 0.02, 0.016, 0.013, 0.01, 0.008, 0.006],
    [0, 0, 0.01, 0.015, 0.02, 0.025, 0.027, 0.027, 0.026, 0.023, 0.021, 0.018, 0.015, 0.012, 0.009, 0.007],
    [0, 0, 0.02, 0.06, 0.11, 0.18, 0.15, 0.11, 0.085, 0.06, 0.048, 0.037, 0.029, 0.021, 0.016, 0.012],
    [0, 0, 0.01, 0.02, 0.05, 0.11, 0.13, 0.11, 0.09, 0.068, 0.054, 0.042, 0.033, 0.025, 0.019, 0.014],
    [0, 0, 0, 0.01, 0.02, 0.06, 0.12, 0.17, 0.16, 0.12, 0.09, 0.066, 0.05, 0.037, 0.028, 0.02],
    [0, 0, 0, 0, 0.01, 0.03, 0.07, 0.11, 0.13, 0.11, 0.088, 0.066, 0.051, 0.038, 0.028, 0.02],
    [0, 0.01, 0.03, 0.06, 0.08, 0.08, 0.07, 0.058, 0.048, 0.038, 0.031, 0.024, 0.019, 0.014, 0.011, 0.008],
    [0, 0, 0.01, 0.03, 0.05, 0.07, 0.072, 0.066, 0.058, 0.047, 0.04, 0.032, 0.026, 0.02, 0.015, 0.011],
]

xTicks = [0, 10, 20, 30, 40, 50]
xMinor = [5, 15, 25, 35, 45]


#function that applies the grey ggplot look to one panel
def stylePanel(ax, ylab, yticks, yminor, ylim, letter, letterPos, ytickLabels=None):
    ax.set_facecolor("#EBEBEB")
    for s in ax.spines.values():
        s.set_visible(False)
    ax.set_xlim(-2.5, 52.5)
    ax.set_ylim(*ylim)
    ax.set_xticks(xTicks)
    ax.set_xticks(xMinor, minor=True)
    ax.set_yticks(yticks)
    ax.set_yticks(yminor, minor=True)
    if ytickLabels is not None:
        ax.set_yticklabels(ytickLabels)
    ax.grid(which="major", color="white", linewidth=0.85)
    ax.grid(which="minor", color="white", linewidth=0.45)
    ax.set_axisbelow(True)
    ax.tick_params(which="major", length=2.5, width=0.8, color="#333333",
                   labelsize=7.2, labelcolor="#4D4D4D", pad=2)
    ax.tick_params(which="minor", length=0)
    ax.set_xlabel("Time (hours)", fontsize=10, labelpad=2)
    ax.set_ylabel(ylab, fontsize=10, labelpad=3)
    ax.text(letterPos[0], letterPos[1], letter, transform=ax.transAxes,
            ha="left", va="top", fontsize=16, family="Lato")


fig = plt.figure(figsize=(10.72, 7.05), dpi=100)
axA = fig.add_axes([0.0311, 0.5759, 0.4394, 0.4213])
axB = fig.add_axes([0.5634, 0.5759, 0.4328, 0.4213])
axC = fig.add_axes([0.0311, 0.0511, 0.4394, 0.4199])
axD = fig.add_axes([0.5662, 0.0511, 0.4300, 0.4199])

lineKw = dict(color="black", linewidth=1.15, solid_joinstyle="round")

for y in plasmaLow:
    axA.plot(timeA2, y, **lineKw)
for y in plasma:
    axA.plot(timeA, y, **lineKw)
for y in bowelDense:
    axB.plot(timeB2, y, **lineKw)
for y in bowel:
    axB.plot(timeB, y, **lineKw)
for y in lymphDense:
    axC.plot(timeC2, y, **lineKw)
for y in lymph:
    axC.plot(timeC, y, **lineKw)
for y in bladderDense:
    axD.plot(timeD2, y, **lineKw)
for t, y in zip(bladderTimes, bladderRates):
    axD.plot(t, y, **lineKw)

stylePanel(axA, "Mass of DPHP in plasma (mg)", [0, 1, 2, 3, 4],
           [0.5, 1.5, 2.5, 3.5], (-0.205, 4.295), "A", (0.01, 0.955))
stylePanel(axB, "Mass of DPHP in Bowel (mg)", [20, 40, 60],
           [10, 30, 50, 70], (0.9, 78.3), "B", (0.026, 0.956))
stylePanel(axC, "Mass of DPHP in Lymph (mg)", [0, 2, 4, 6],
           [1, 3, 5, 7], (-0.345, 7.245), "C", (0.012, 0.954))
stylePanel(axD, "Deposition rate of OH-MPHP in bladder (mg/hr)", [0, 0.2, 0.4, 0.6],
           [0.1, 0.3, 0.5, 0.7], (-0.0365, 0.7665), "D", (0.015, 0.932),
           ["0.0", "0.2", "0.4", "0.6"])

fig.savefig("out.png", dpi=100)
